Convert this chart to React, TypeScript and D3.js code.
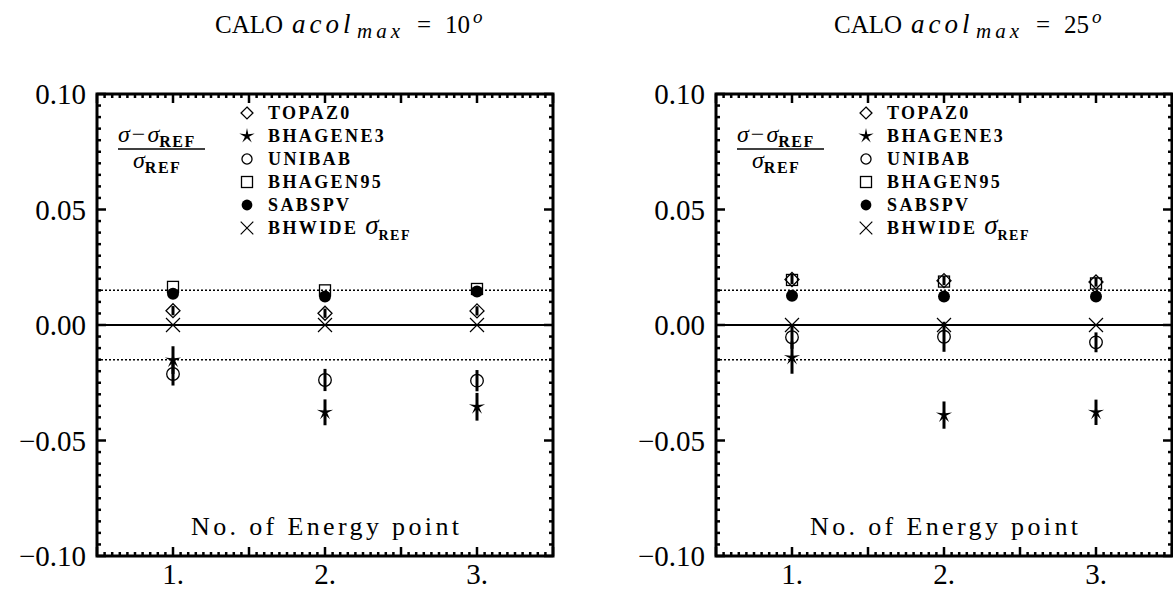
import React, { useRef, useEffect } from "react";
import * as d3 from "d3";

// energy points and tick labels
const energyPoints = [1, 2, 3];
const xTickLabels = ["1.", "2.", "3."];
const yTickValues = [-0.1, -0.05, 0, 0.05, 0.1];
const yTickLabels = ["\u22120.10", "\u22120.05", "0.00", "0.05", "0.10"];
const bandLimits = [0.015, -0.015];

const generators = ["TOPAZ0", "BHAGENE3", "UNIBAB", "BHAGEN95", "SABSPV", "BHWIDE"];

// CALO acol_max = 10
const topaz10 = [0.0062, 0.0051, 0.0061];
const topazErr10 = [0.002, 0.002, 0.002];
const bhagene10 = [-0.0152, -0.0378, -0.0354];
const bhageneErr10 = [0.006, 0.0056, 0.006];
const unibab10 = [-0.0212, -0.0238, -0.0241];
const unibabErr10 = [0.005, 0.0048, 0.0046];
const bhagen95_10 = [0.0165, 0.015, 0.0156];
const sabspv10 = [0.0135, 0.0123, 0.0145];
const bhwide10 = [0, 0, 0];

// CALO acol_max = 25
const topaz25 = [0.0197, 0.0192, 0.0186];
const topazErr25 = [0.002, 0.002, 0.002];
const bhagene25 = [-0.0141, -0.039, -0.0378];
const bhageneErr25 = [0.007, 0.0059, 0.0055];
const unibab25 = [-0.0053, -0.0051, -0.0075];
const unibabErr25 = [0.005, 0.0065, 0.0043];
const bhagen95_25 = [0.0195, 0.0188, 0.018];
const sabspv25 = [0.0127, 0.0123, 0.0123];
const bhwide25 = [0, 0, 0];

const W = 456;
const H = 462;
const FONT = "'Liberation Serif', 'DejaVu Serif', serif";

const starPath = (ro: number, ri: number) => {
  const pts: [number, number][] = d3.range(10).map((i) => {
    const a = -Math.PI / 2 + (i * Math.PI) / 5;
    const r = i % 2 ? ri : ro;
    return [r * Math.cos(a), r * Math.sin(a)];
  });
  return "M" + pts.map((p) => p.join(",")).join("L") + "Z";
};

type Marker = "diamond" | "star" | "circle" | "square" | "dot" | "cross";

const drawMarker = (g: any, kind: Marker, x: number, y: number, s = 1) => {
  const m = g.append("g").attr("transform", `translate(${x},${y})`);
  if (kind === "diamond") {
    const r = 7 * s;
    m.append("path").attr("d", `M0,${-r}L${r},0L0,${r}L${-r},0Z`)
      .attr("fill", "none").attr("stroke", "#000").attr("stroke-width", 1.3);
  } else if (kind === "star") {
    m.append("path").attr("d", starPath(8.5 * s, 2.3 * s)).attr("fill", "#000");
  } else if (kind === "circle") {
    m.append("circle").attr("r", 6.3 * s).attr("fill", "none")
      .attr("stroke", "#000").attr("stroke-width", 1.3);
  } else if (kind === "square") {
    const r = 5.5 * s;
    m.append("rect").attr("x", -r).attr("y", -r).attr("width", 2 * r).attr("height", 2 * r)
      .attr("fill", "none").attr("stroke", "#000").attr("stroke-width", 1.3);
  } else if (kind === "dot") {
    m.append("circle").attr("r", 6 * s).attr("fill", "#000");
  } else {
    const r = 7 * s;
    m.append("path").attr("d", `M${-r},${-r}L${r},${r}M${-r},${r}L${r},${-r}`)
      .attr("stroke", "#000").attr("stroke-width", 1.2);
  }
};

type PanelCfg = {
  left: number;
  acol: string;
  topaz: number[]; topazErr: number[];
  bhagene: number[]; bhageneErr: number[];
  unibab: number[]; unibabErr: number[];
  bhagen95: number[]; sabspv: number[]; bhwide: number[];
};

const drawPanel = (svg: any, cfg: PanelCfg) => {
  const top = 94;
  const g = svg.append("g").attr("transform", `translate(${cfg.left},${top})`);
  const x = d3.scaleLinear().domain([0.5, 3.5]).range([0, W]);
  const y = d3.scaleLinear().domain([-0.1, 0.1]).range([H, 0]);

  // title, laid out piece by piece (TeX-like spacing)
  const x0 = cfg.left + 118;
  const t = svg.append("text").attr("y", 33).attr("font-family", FONT).attr("font-size", 25);
  t.append("tspan").attr("x", x0).text("CALO");
  t.append("tspan").attr("x", x0 + 77).attr("font-style", "italic").attr("font-size", 27)
    .attr("letter-spacing", 4).text("acol");
  t.append("tspan").attr("x", x0 + 142).attr("font-style", "italic").attr("font-size", 21)
    .attr("letter-spacing", 4).attr("dy", 5).text("max");
  t.append("tspan").attr("x", x0 + 202).attr("dy", -5).text("=");
  t.append("tspan").attr("x", x0 + 230).text(cfg.acol);
  t.append("tspan").attr("x", x0 + 258).attr("font-style", "italic").attr("font-size", 19)
    .attr("dy", -10).text("o");

  // reference lines
  g.append("line").attr("x1", 0).attr("x2", W).attr("y1", y(0)).attr("y2", y(0))
    .attr("stroke", "#000").attr("stroke-width", 2);
  bandLimits.forEach((b) => {
    g.append("line").attr("x1", 0).attr("x2", W).attr("y1", y(b)).attr("y2", y(b))
      .attr("stroke", "#000").attr("stroke-width", 1.5).attr("stroke-dasharray", "2,2");
  });

  // ticks (inward, all four sides)
  const xt = d3.range(0, 61).map((i) => 0.5 + i * 0.05);
  xt.forEach((v, i) => {
    const len = i % 10 === 0 ? 9 : 4;
    g.append("line").attr("x1", x(v)).attr("x2", x(v)).attr("y1", H).attr("y2", H - len)
      .attr("stroke", "#000").attr("stroke-width", 2.5);
    g.append("line").attr("x1", x(v)).attr("x2", x(v)).attr("y1", 0).attr("y2", len)
      .attr("stroke", "#000").attr("stroke-width", 2.5);
  });
  const yt = d3.range(0, 41).map((i) => -0.1 + i * 0.005);
  yt.forEach((v, i) => {
    const len = i % 10 === 0 ? 9 : 4;
    g.append("line").attr("x1", 0).attr("x2", len).attr("y1", y(v)).attr("y2", y(v))
      .attr("stroke", "#000").attr("stroke-width", 2.5);
    g.append("line").attr("x1", W).attr("x2", W - len).attr("y1", y(v)).attr("y2", y(v))
      .attr("stroke", "#000").attr("stroke-width", 2.5);
  });

  // frame
  g.append("rect").attr("x", 0).attr("y", 0).attr("width", W).attr("height", H)
    .attr("fill", "none").attr("stroke", "#000").attr("stroke-width", 3);

  // tick labels
  yTickValues.forEach((v, i) => {
    g.append("text").attr("x", -11).attr("y", y(v) + 10).attr("text-anchor", "end")
      .attr("font-family", FONT).attr("font-size", 29).text(yTickLabels[i]);
  });
  energyPoints.forEach((v, i) => {
    g.append("text").attr("x", x(v)).attr("y", H + 28).attr("text-anchor", "middle")
      .attr("font-family", FONT).attr("font-size", 29).text(xTickLabels[i]);
  });

  // axis caption
  g.append("text").attr("x", W / 2).attr("y", 441).attr("text-anchor", "middle")
    .attr("font-family", FONT).attr("font-size", 26).attr("textLength", 268)
    .attr("lengthAdjust", "spacing").text("No. of Energy point");

  // fraction label
  const num = g.append("text").attr("x", 21).attr("y", 48).attr("font-family", FONT).attr("font-size", 24);
  num.append("tspan").attr("font-style", "italic").text("\u03c3");
  num.append("tspan").attr("dx", 2).text("\u2212");
  num.append("tspan").attr("dx", 2).attr("font-style", "italic").text("\u03c3");
  num.append("tspan").attr("font-size", 16).attr("font-weight", "bold").attr("letter-spacing", 1.5)
    .attr("dy", 5).text("REF");
  g.append("line").attr("x1", 21).attr("x2", 108).attr("y1", 55).attr("y2", 55)
    .attr("stroke", "#000").attr("stroke-width", 1.5);
  const den = g.append("text").attr("x", 36).attr("y", 74).attr("font-family", FONT).attr("font-size", 24);
  den.append("tspan").attr("font-style", "italic").text("\u03c3");
  den.append("tspan").attr("font-size", 16).attr("font-weight", "bold").attr("letter-spacing", 1.5)
    .attr("dy", 5).text("REF");

  // legend
  const legendMarkers: Marker[] = ["diamond", "star", "circle", "square", "dot", "cross"];
  const legendScale = [0.85, 0.95, 0.8, 1, 0.9, 0.9];
  generators.forEach((name, i) => {
    const ly = 19 + i * 23;
    drawMarker(g, legendMarkers[i], 150, ly, legendScale[i]);
    const lt = g.append("text").attr("x", 171).attr("y", ly + 6).attr("font-family", FONT)
      .attr("font-size", 18).attr("font-weight", "bold").attr("letter-spacing", 2.4).text(name);
    if (name === "BHWIDE") {
      lt.append("tspan").attr("font-style", "italic").attr("font-weight", "normal")
        .attr("font-size", 27).attr("letter-spacing", 0).text(" \u03c3");
      lt.append("tspan").attr("font-size", 14).attr("dy", 6).attr("letter-spacing", 1.5).text("REF");
    }
  });

  // error bars
  const errSeries = [
    [cfg.topaz, cfg.topazErr],
    [cfg.unibab, cfg.unibabErr],
    [cfg.bhagene, cfg.bhageneErr],
  ];
  errSeries.forEach(([vals, errs]) => {
    energyPoints.forEach((e, i) => {
      g.append("line").attr("x1", x(e)).attr("x2", x(e))
        .attr("y1", y(vals[i] - errs[i])).attr("y2", y(vals[i] + errs[i]))
        .attr("stroke", "#000").attr("stroke-width", 3);
    });
  });

  // markers
  const series: [Marker, number[]][] = [
    ["square", cfg.bhagen95],
    ["dot", cfg.sabspv],
    ["diamond", cfg.topaz],
    ["cross", cfg.bhwide],
    ["circle", cfg.unibab],
    ["star", cfg.bhagene],
  ];
  series.forEach(([kind, vals]) => {
    energyPoints.forEach((e, i) => drawMarker(g, kind, x(e), y(vals[i])));
  });
};

const App: React.FC = () => {
  const ref = useRef<SVGSVGElement>(null);

  useEffect(() => {
    if (ref.current) {
      const svg = d3.select(ref.current);
      svg.selectAll("*").remove();
      drawPanel(svg, {
        left: 97, acol: "10",
        topaz: topaz10, topazErr: topazErr10,
        bhagene: bhagene10, bhageneErr: bhageneErr10,
        unibab: unibab10, unibabErr: unibabErr10,
        bhagen95: bhagen95_10, sabspv: sabspv10, bhwide: bhwide10,
      });
      drawPanel(svg, {
        left: 716, acol: "25",
        topaz: topaz25, topazErr: topazErr25,
        bhagene: bhagene25, bhageneErr: bhageneErr25,
        unibab: unibab25, unibabErr: unibabErr25,
        bhagen95: bhagen95_25, sabspv: sabspv25, bhwide: bhwide25,
      });
    }
  }, []);

  return (
    <svg ref={ref} width={1173} height={591}
      style={{ position: "absolute", left: 0, top: 0, background: "#fff" }} />
  );
};

export default App;
